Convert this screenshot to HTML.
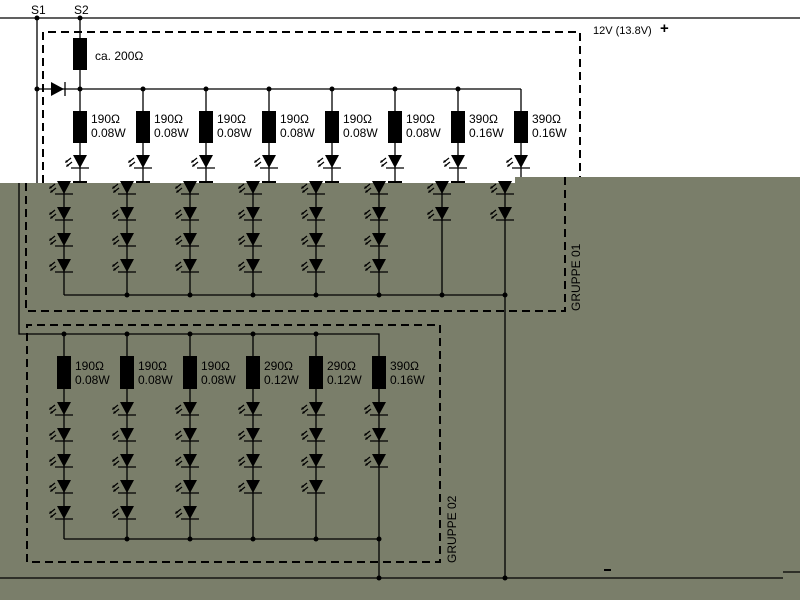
<!DOCTYPE html>
<html><head><meta charset="utf-8"><style>
html,body{margin:0;padding:0;background:#fff;width:800px;height:600px;overflow:hidden}
svg{display:block}
text{font-family:"Liberation Sans",sans-serif;font-size:12px;fill:#000}
</style></head><body>
<svg width="800" height="600" viewBox="0 0 800 600" xmlns="http://www.w3.org/2000/svg">
<defs>
<g id="led">
<polygon points="-7,0 7,0 0,13" fill="#000"/>
<line x1="-9" y1="13" x2="9" y2="13" stroke="#000" stroke-width="1.3"/>
<line x1="-9" y1="3" x2="-14" y2="7" stroke="#000" stroke-width="1.2"/>
<line x1="-8" y1="7" x2="-13" y2="11" stroke="#000" stroke-width="1.2"/>
<polygon points="-15,8 -14,5 -12,7" fill="#000"/>
<polygon points="-14,12 -13,9 -11,11" fill="#000"/>
</g>
</defs>
<rect width="800" height="600" fill="#fff"/>
<!-- top white section -->
<g stroke="#000" stroke-width="1.3" fill="none">
<line x1="0" y1="18" x2="800" y2="18"/>
<line x1="37" y1="18" x2="37" y2="183"/>
<line x1="80" y1="18" x2="80" y2="89"/>
<line x1="37" y1="89" x2="521" y2="89"/>
<line x1="80" y1="89" x2="80" y2="183"/><line x1="143" y1="89" x2="143" y2="183"/>
<line x1="206" y1="89" x2="206" y2="183"/><line x1="269" y1="89" x2="269" y2="183"/>
<line x1="332" y1="89" x2="332" y2="183"/><line x1="395" y1="89" x2="395" y2="183"/>
<line x1="458" y1="89" x2="458" y2="183"/><line x1="521" y1="89" x2="521" y2="183"/>
<line x1="65" y1="82" x2="65" y2="96"/>
<polyline points="43,183 43,32 580,32 580,183" stroke-width="2" stroke-dasharray="8,5"/>
</g>
<polygon points="51,82 51,96 64,89" fill="#000"/>
<g fill="#000">
<circle cx="37" cy="18" r="2.5"/><circle cx="80" cy="18" r="2.5"/><circle cx="37" cy="89" r="2.5"/>
<circle cx="80" cy="89" r="2.5"/><circle cx="143" cy="89" r="2.5"/><circle cx="206" cy="89" r="2.5"/>
<circle cx="269" cy="89" r="2.5"/><circle cx="332" cy="89" r="2.5"/><circle cx="395" cy="89" r="2.5"/><circle cx="458" cy="89" r="2.5"/>
<rect x="73" y="38" width="14" height="32"/>
<rect x="73" y="111" width="14" height="32"/><rect x="136" y="111" width="14" height="32"/>
<rect x="199" y="111" width="14" height="32"/><rect x="262" y="111" width="14" height="32"/>
<rect x="325" y="111" width="14" height="32"/><rect x="388" y="111" width="14" height="32"/>
<rect x="451" y="111" width="14" height="32"/><rect x="514" y="111" width="14" height="32"/>
<rect x="73" y="181" width="14" height="3"/><rect x="136" y="181" width="14" height="3"/>
<rect x="199" y="181" width="14" height="3"/><rect x="262" y="181" width="14" height="3"/>
<rect x="325" y="181" width="14" height="3"/><rect x="388" y="181" width="14" height="3"/>
<rect x="451" y="181" width="14" height="3"/>
</g>
<use href="#led" x="80" y="155"/><use href="#led" x="143" y="155"/><use href="#led" x="206" y="155"/>
<use href="#led" x="269" y="155"/><use href="#led" x="332" y="155"/><use href="#led" x="395" y="155"/>
<use href="#led" x="458" y="155"/><use href="#led" x="521" y="155"/>
<text x="31" y="14">S1</text><text x="74" y="14">S2</text>
<text x="95" y="60">ca. 200Ω</text>
<text x="91" y="123">190Ω</text><text x="91" y="137">0.08W</text>
<text x="154" y="123">190Ω</text><text x="154" y="137">0.08W</text>
<text x="217" y="123">190Ω</text><text x="217" y="137">0.08W</text>
<text x="280" y="123">190Ω</text><text x="280" y="137">0.08W</text>
<text x="343" y="123">190Ω</text><text x="343" y="137">0.08W</text>
<text x="406" y="123">190Ω</text><text x="406" y="137">0.08W</text>
<text x="469" y="123">390Ω</text><text x="469" y="137">0.16W</text>
<text x="532" y="123">390Ω</text><text x="532" y="137">0.16W</text>
<text x="593" y="34" style="font-size:11px">12V (13.8V)</text>
<text x="660" y="33" style="font-size:15px;font-weight:bold">+</text>
<!-- gray section -->
<rect x="0" y="183" width="800" height="417" fill="#7a7e6a"/>
<rect x="515" y="177" width="285" height="10" fill="#7a7e6a"/>
<g stroke="#000" stroke-width="1.3" fill="none">
<line x1="64" y1="183" x2="64" y2="295"/><line x1="127" y1="183" x2="127" y2="295"/>
<line x1="190" y1="183" x2="190" y2="295"/><line x1="253" y1="183" x2="253" y2="295"/>
<line x1="316" y1="183" x2="316" y2="295"/><line x1="379" y1="183" x2="379" y2="295"/>
<line x1="442" y1="183" x2="442" y2="295"/><line x1="505" y1="183" x2="505" y2="578"/>
<line x1="64" y1="295" x2="505" y2="295"/>
<polyline points="26,183 26,311 565,311 565,177" stroke-width="2" stroke-dasharray="8,5"/>
<polyline points="19,183 19,334 379,334 379,578"/>
<line x1="64" y1="334" x2="64" y2="539"/><line x1="127" y1="334" x2="127" y2="539"/>
<line x1="190" y1="334" x2="190" y2="539"/><line x1="253" y1="334" x2="253" y2="539"/>
<line x1="316" y1="334" x2="316" y2="539"/>
<line x1="64" y1="539" x2="379" y2="539"/>
<polyline points="27,562 27,325 440,325 440,562 27,562" stroke-width="2" stroke-dasharray="8,5"/>
<line x1="0" y1="578" x2="783" y2="578"/>
<line x1="783" y1="572" x2="800" y2="572"/>
</g>
<g fill="#000">
<circle cx="127" cy="295" r="2.5"/><circle cx="190" cy="295" r="2.5"/><circle cx="253" cy="295" r="2.5"/>
<circle cx="316" cy="295" r="2.5"/><circle cx="379" cy="295" r="2.5"/><circle cx="442" cy="295" r="2.5"/><circle cx="505" cy="295" r="2.5"/>
<circle cx="64" cy="334" r="2.5"/><circle cx="127" cy="334" r="2.5"/><circle cx="190" cy="334" r="2.5"/>
<circle cx="253" cy="334" r="2.5"/><circle cx="316" cy="334" r="2.5"/>
<circle cx="127" cy="539" r="2.5"/><circle cx="190" cy="539" r="2.5"/><circle cx="253" cy="539" r="2.5"/>
<circle cx="316" cy="539" r="2.5"/><circle cx="379" cy="539" r="2.5"/>
<circle cx="379" cy="578" r="2.5"/><circle cx="505" cy="578" r="2.5"/>
<rect x="57" y="356" width="14" height="33"/><rect x="120" y="356" width="14" height="33"/>
<rect x="183" y="356" width="14" height="33"/><rect x="246" y="356" width="14" height="33"/>
<rect x="309" y="356" width="14" height="33"/><rect x="372" y="356" width="14" height="33"/>
<rect x="604" y="569" width="7" height="2"/>
</g>
<!-- group 1 gray LEDs -->
<use href="#led" x="64" y="181"/><use href="#led" x="64" y="207"/><use href="#led" x="64" y="233"/><use href="#led" x="64" y="259"/>
<use href="#led" x="127" y="181"/><use href="#led" x="127" y="207"/><use href="#led" x="127" y="233"/><use href="#led" x="127" y="259"/>
<use href="#led" x="190" y="181"/><use href="#led" x="190" y="207"/><use href="#led" x="190" y="233"/><use href="#led" x="190" y="259"/>
<use href="#led" x="253" y="181"/><use href="#led" x="253" y="207"/><use href="#led" x="253" y="233"/><use href="#led" x="253" y="259"/>
<use href="#led" x="316" y="181"/><use href="#led" x="316" y="207"/><use href="#led" x="316" y="233"/><use href="#led" x="316" y="259"/>
<use href="#led" x="379" y="181"/><use href="#led" x="379" y="207"/><use href="#led" x="379" y="233"/><use href="#led" x="379" y="259"/>
<use href="#led" x="442" y="181"/><use href="#led" x="442" y="207"/>
<use href="#led" x="505" y="181"/><use href="#led" x="505" y="207"/>
<!-- group 2 LEDs -->
<use href="#led" x="64" y="402"/><use href="#led" x="64" y="428"/><use href="#led" x="64" y="454"/><use href="#led" x="64" y="480"/><use href="#led" x="64" y="506"/>
<use href="#led" x="127" y="402"/><use href="#led" x="127" y="428"/><use href="#led" x="127" y="454"/><use href="#led" x="127" y="480"/><use href="#led" x="127" y="506"/>
<use href="#led" x="190" y="402"/><use href="#led" x="190" y="428"/><use href="#led" x="190" y="454"/><use href="#led" x="190" y="480"/><use href="#led" x="190" y="506"/>
<use href="#led" x="253" y="402"/><use href="#led" x="253" y="428"/><use href="#led" x="253" y="454"/><use href="#led" x="253" y="480"/>
<use href="#led" x="316" y="402"/><use href="#led" x="316" y="428"/><use href="#led" x="316" y="454"/><use href="#led" x="316" y="480"/>
<use href="#led" x="379" y="402"/><use href="#led" x="379" y="428"/><use href="#led" x="379" y="454"/>
<text x="75" y="370">190Ω</text><text x="75" y="384">0.08W</text>
<text x="138" y="370">190Ω</text><text x="138" y="384">0.08W</text>
<text x="201" y="370">190Ω</text><text x="201" y="384">0.08W</text>
<text x="264" y="370">290Ω</text><text x="264" y="384">0.12W</text>
<text x="327" y="370">290Ω</text><text x="327" y="384">0.12W</text>
<text x="390" y="370">390Ω</text><text x="390" y="384">0.16W</text>
<text transform="translate(580,311) rotate(-90)">GRUPPE 01</text>
<text transform="translate(456,563) rotate(-90)">GRUPPE 02</text>
</svg>
</body></html>
